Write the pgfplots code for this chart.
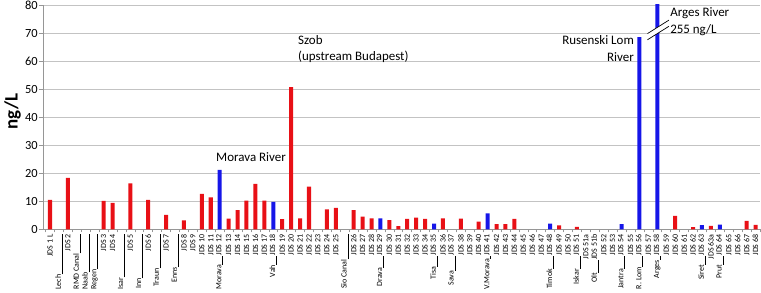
\documentclass[border=0pt]{standalone}
\usepackage{fontspec}
\setmainfont{Carlito}
\usepackage{pgfplots}
\pgfplotsset{compat=1.18}
\definecolor{barred}{RGB}{232,16,22}
\definecolor{barblue}{RGB}{22,22,232}
\definecolor{gridgray}{RGB}{195,195,195}
\definecolor{axgray}{RGB}{150,150,150}
\newcommand{\trib}[2]{#1\rule[-1.6bp]{#2bp}{0.6bp}}
\newcommand{\pair}[3]{#1\rule[-1.6bp]{#2bp}{0.6bp}\hspace{0.5bp}#3}
\begin{document}
\begin{tikzpicture}
\begin{axis}[
 name=ax,
 scale only axis, width=717bp, height=224.3bp,
 xmin=-0.784, xmax=79.5, ymin=0, ymax=80,
 ybar, bar width=0.45,
 xtick={0,...,79},
 xticklabels={{JDS 1 L},{\trib{Lech}{40}},{JDS 2},{\trib{RMD Canal}{19}},{\trib{Naab}{38}},{\trib{Regen}{35}},{JDS 3},{JDS 4},{\trib{Isar}{43}},{JDS 5},{\trib{Inn}{44}},{JDS 6},{\trib{Traun}{34}},{JDS 7},{\trib{Enns}{33}},{JDS 8},{JDS 9},{JDS 10},{JDS 11},{\pair{Morava}{9}{JDS 12}},{JDS 13},{JDS 14},{JDS 15},{JDS 16},{JDS 17},{\pair{Vah}{9}{JDS 18}},{JDS 19},{JDS 20},{JDS 21},{JDS 22},{JDS 23},{JDS 24},{JDS 25},{\trib{Sio Canal}{25}},{JDS 26},{JDS 27},{JDS 28},{\pair{Drava}{12}{JDS 29}},{JDS 30},{JDS 31},{JDS 32},{JDS 33},{JDS 34},{\pair{Tisa}{11}{JDS 35}},{JDS 36},{\pair{Sava}{15}{JDS 37}},{JDS 38},{JDS 39},{JDS 40},{\pair{V.Morava}{3}{JDS 41}},{JDS 42},{JDS 43},{JDS 44},{JDS 45},{JDS 46},{JDS 47},{\pair{Timok}{13}{JDS 48}},{JDS 49},{JDS 50},{\pair{Iskar}{13}{JDS 51}},{JDS 51a},{\pair{Olt}{13}{JDS 51b}},{JDS 52},{JDS 53},{\pair{Jantra}{13}{JDS 54}},{JDS 55},{\pair{R. Lom}{11}{JDS 56}},{JDS 57},{\pair{Arges}{4}{JDS 58}},{JDS 59},{JDS 60},{JDS 61},{JDS 62},{\pair{Siret}{9}{JDS 63}},{JDS 63a},{\pair{Prut}{9}{JDS 64}},{JDS 65},{JDS 66},{JDS 67},{JDS 68}},
 xticklabel style={rotate=90, anchor=east, font=\fontsize{8}{8}\selectfont, inner sep=1bp},
 major x tick style={draw=none},
 minor xtick={-0.5,0.5,...,79.5},
 minor tick length=3bp,
 ytick={0,10,...,80},
 yticklabel style={font=\fontsize{12.5}{13}\selectfont, inner sep=1bp},
 major tick length=4bp,
 tick align=outside,
 ymajorgrids, grid style={gridgray, line width=0.6bp},
 axis x line*=bottom, axis y line*=left,
 axis line style={axgray, line width=0.6bp},
 tick style={axgray, line width=0.6bp},
 ylabel={\bfseries ng/L},
 ylabel style={font=\fontsize{19}{20}\selectfont, at={(axis description cs:-0.0425,0.525)}, anchor=center},
 /pgf/number format/assume math mode=true,
]
\addplot[fill=barred, draw=none, bar shift=0pt] coordinates {
 (0,10.5) (2,18.3) (6,10.1) (7,9.4) (9,16.4) (11,10.5) (13,5.1) (15,3.2)
 (17,12.6) (18,11.4) (20,3.8) (21,6.8) (22,10.2) (23,16.2) (24,10.2)
 (26,3.6) (27,50.7) (28,3.9) (29,15.2) (31,7.1) (32,7.6) (34,6.8) (35,4.5)
 (36,3.9) (38,3.3) (39,1.1) (40,3.7) (41,4.2) (42,3.7) (44,3.9) (46,3.8)
 (48,2.7) (50,1.8) (51,1.8) (52,3.7) (57,1.4) (59,0.9) (70,4.8) (72,0.8)
 (74,1.2) (78,3.0) (79,1.6)
};
\addplot[fill=barblue, draw=none, bar shift=0pt] coordinates {
 (19,21.2) (25,9.75) (37,3.9) (43,2.0) (49,5.7) (56,2.0) (64,1.8)
 (66,68.5) (68,255) (73,1.5) (75,1.7)
};
\fill[white] (axis cs:66.9,67.6) -- (axis cs:69.3,72.4) -- (axis cs:69.3,74.6) -- (axis cs:66.9,69.8) -- cycle;
\draw[black, line width=0.7bp] (axis cs:66.9,67.6) -- (axis cs:69.3,72.4);
\draw[black, line width=0.7bp] (axis cs:66.9,69.8) -- (axis cs:69.3,74.6);
\node[anchor=west, inner sep=0, font=\fontsize{13}{13}\selectfont] at (axis cs:18.59,25.8) {Morava River};
\node[anchor=west, inner sep=0, font=\fontsize{13}{13}\selectfont] at (axis cs:27.77,67.6) {Szob};
\node[anchor=west, inner sep=0, font=\fontsize{13}{13}\selectfont] at (axis cs:27.77,61.5) {(upstream Budapest)};
\node[anchor=east, inner sep=0, font=\fontsize{13}{13}\selectfont] at (axis cs:65.4,67.6) {Rusenski Lom};
\node[anchor=east, inner sep=0, font=\fontsize{13}{13}\selectfont] at (axis cs:65.4,61.5) {River};
\node[anchor=west, inner sep=0, font=\fontsize{13}{13}\selectfont] at (axis cs:69.43,77.25) {Arges River};
\node[anchor=west, inner sep=0, font=\fontsize{13}{13}\selectfont] at (axis cs:69.43,71.2) {255 ng/L};
\end{axis}
\pgfresetboundingbox
\path ([xshift=-43bp,yshift=-63.7bp]ax.south west) rectangle ([xshift=1bp,yshift=5bp]ax.north east);
\end{tikzpicture}
\end{document}
